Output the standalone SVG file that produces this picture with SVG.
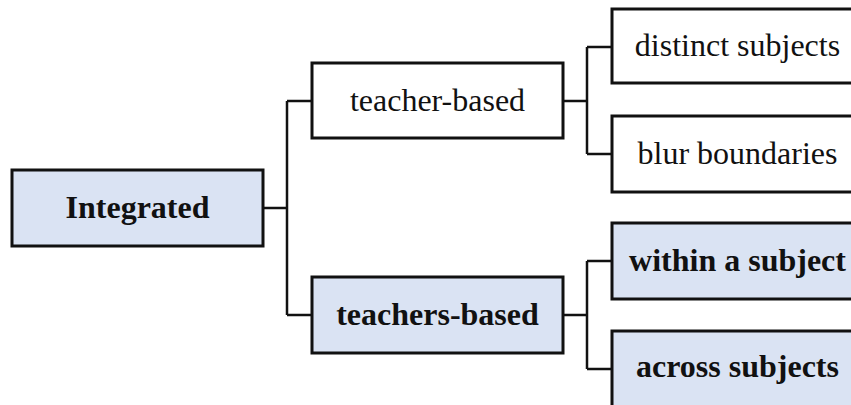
<svg xmlns="http://www.w3.org/2000/svg" width="851" height="405" viewBox="0 0 851 405">
  <style>
    .box { stroke: #111; stroke-width: 3; }
    .plain { fill: #ffffff; }
    .shade { fill: #dae3f3; }
    .lbl { font-family: "Liberation Serif", "Times New Roman", serif; font-size: 32px; fill: #111; text-anchor: middle; }
    .bold { font-weight: bold; }
    .link { fill: none; stroke: #111; stroke-width: 2.5; }
  </style>
  <rect width="851" height="405" fill="#ffffff"/>

  <g id="connectors">
    <path class="link" d="M263 208 H287 M287 101 V315 M287 101 H312 M287 315 H312"/>
    <path class="link" d="M563 101 H587 M587 47 V154 M587 47 H612 M587 154 H612"/>
    <path class="link" d="M563 315 H587 M587 261 V369 M587 261 H612 M587 369 H612"/>
  </g>

  <g id="integrated">
    <rect class="box shade" x="12" y="170" width="251" height="76"/>
    <text class="lbl bold" x="137.5" y="218">Integrated</text>
  </g>
  <g id="teacher-based">
    <rect class="box plain" x="312" y="63" width="251" height="75"/>
    <text class="lbl" x="437.5" y="111">teacher-based</text>
  </g>
  <g id="teachers-based">
    <rect class="box shade" x="312" y="277" width="251" height="76"/>
    <text class="lbl bold" x="437.5" y="325">teachers-based</text>
  </g>
  <g id="distinct-subjects">
    <rect class="box plain" x="612" y="9" width="251" height="74"/>
    <text class="lbl" x="737.5" y="56">distinct subjects</text>
  </g>
  <g id="blur-boundaries">
    <rect class="box plain" x="612" y="116" width="251" height="76"/>
    <text class="lbl" x="737.5" y="164">blur boundaries</text>
  </g>
  <g id="within-a-subject">
    <rect class="box shade" x="612" y="223" width="251" height="76"/>
    <text class="lbl bold" x="737.5" y="271">within a subject</text>
  </g>
  <g id="across-subjects">
    <rect class="box shade" x="612" y="331" width="251" height="76"/>
    <text class="lbl bold" x="737.5" y="377">across subjects</text>
  </g>
</svg>
